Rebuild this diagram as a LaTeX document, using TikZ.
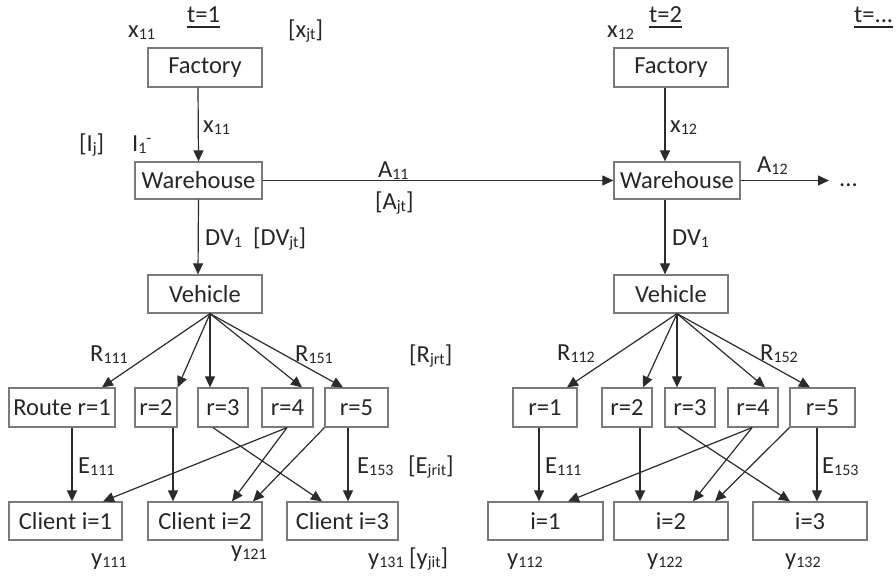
\documentclass[tikz,border=0pt]{standalone}
\usepackage{fontspec}
\setmainfont{Carlito}
\usetikzlibrary{arrows.meta}
\definecolor{boxgray}{HTML}{7A7A7A}
\definecolor{linegray}{HTML}{2B2B2B}
\definecolor{txt}{HTML}{262626}
% lowered / raised small indices
\newcommand{\sbs}[1]{\raisebox{-2.5pt}{\fontsize{16}{16}\selectfont #1}}
\newcommand{\sps}[1]{\raisebox{8pt}{\fontsize{16}{16}\selectfont #1}}
\begin{document}
\begin{tikzpicture}[x=1pt,y=-1pt,
  font=\fontsize{24.5}{29}\selectfont,
  box/.style={draw=boxgray, line width=1.3pt, minimum height=39pt, inner sep=0pt, text=txt},
  lbl/.style={anchor=base west, inner sep=0pt, text=txt},
  arr/.style={draw=linegray, line width=1.2pt, -{Triangle[length=11pt,width=10pt]}},
  uline/.style={draw=txt, line width=1.3pt}]
\fill[white] (0,0) rectangle (896,576);
\useasboundingbox (0,0) rectangle (896,576);

% ---------- period t = 1 ----------
\node[box, minimum width=114pt] (fac1) at (205,67.5) {Factory};
\node[box, minimum width=127pt, minimum height=37pt] (wh1) at (198.5,180.5) {Warehouse};
\node[box, minimum width=114pt, minimum height=38pt] (veh1) at (205,294) {Vehicle};
\node[box, minimum width=106pt] (r11) at (62,407.5) {Route r=1};
\node[box, minimum width=42pt] (r12) at (156,407.5) {r=2};
\node[box, minimum width=50pt] (r13) at (223,407.5) {r=3};
\node[box, minimum width=51pt] (r14) at (287.5,407.5) {r=4};
\node[box, minimum width=63pt] (r15) at (356.5,407.5) {r=5};
\node[box, minimum width=113pt, minimum height=38pt] (c11) at (65.5,521) {Client i=1};
\node[box, minimum width=114pt, minimum height=38pt] (c12) at (205,521) {Client i=2};
\node[box, minimum width=111pt, minimum height=38pt] (c13) at (342.5,521) {Client i=3};

% ---------- period t = 2 ----------
\node[box, minimum width=114pt] (fac2) at (671,67.5) {Factory};
\node[box, minimum width=126pt, minimum height=37pt] (wh2) at (677,180.5) {Warehouse};
\node[box, minimum width=114pt, minimum height=38pt] (veh2) at (671,294) {Vehicle};
\node[box, minimum width=64pt] (r21) at (545,407.5) {r=1};
\node[box, minimum width=50pt] (r22) at (627,407.5) {r=2};
\node[box, minimum width=50pt] (r23) at (690,407.5) {r=3};
\node[box, minimum width=50pt] (r24) at (753,407.5) {r=4};
\node[box, minimum width=65pt] (r25) at (822.5,407.5) {r=5};
\node[box, minimum width=115pt, minimum height=38pt] (c21) at (545.5,521) {i=1};
\node[box, minimum width=114pt, minimum height=38pt] (c22) at (671,521) {i=2};
\node[box, minimum width=114pt, minimum height=38pt] (c23) at (810,521) {i=3};
\node[lbl] (dots) at (839,186) {...};

% ---------- flows, t = 1 ----------
\draw[arr] (198,0 |- fac1.south) -- (wh1.north);
\draw[arr] (wh1.east) -- (wh2.west);
\draw[arr] (wh1.south) -- (198,0 |- veh1.north);
\coordinate (v1) at (210,0 |- veh1.south);
\draw[arr] (v1) -- (102,0 |- r11.north);
\draw[arr] (v1) -- (r12.north east);
\draw[arr] (v1) -- (210,0 |- r13.north);
\draw[arr] (v1) -- (302,0 |- r14.north);
\draw[arr] (v1) -- (343,0 |- r15.north);
\draw[arr] (72,0 |- r11.south) -- (72,0 |- c11.north);
\draw[arr] (173,0 |- r12.south) -- (173,0 |- c12.north);
\draw[arr] (213,0 |- r13.south) -- (322,0 |- c13.north);
\draw[arr] (287,0 |- r14.south) -- (103,0 |- c11.north);
\draw[arr] (287,0 |- r14.south) -- (232,0 |- c12.north);
\draw[arr] (r15.south west) -- (253,0 |- c12.north);
\draw[arr] (348,0 |- r15.south) -- (348,0 |- c13.north);

% ---------- flows, t = 2 ----------
\draw[arr] (665,0 |- fac2.south) -- (665,0 |- wh2.north);
\draw[arr] (wh2.east) -- ([xshift=-10pt]dots.west |- wh2.east);
\draw[arr] (665,0 |- wh2.south) -- (665,0 |- veh2.north);
\coordinate (v2) at (677,0 |- veh2.south);
\draw[arr] (v2) -- (567,0 |- r21.north);
\draw[arr] (v2) -- (643,0 |- r22.north);
\draw[arr] (v2) -- (677,0 |- r23.north);
\draw[arr] (v2) -- (765,0 |- r24.north);
\draw[arr] (v2) -- (810,0 |- r25.north);
\draw[arr] (539,0 |- r21.south) -- (539,0 |- c21.north);
\draw[arr] (640,0 |- r22.south) -- (640,0 |- c22.north);
\draw[arr] (678,0 |- r23.south) -- (790,0 |- c23.north);
\draw[arr] (752,0 |- r24.south) -- (568,0 |- c21.north);
\draw[arr] (752,0 |- r24.south) -- (693,0 |- c22.north);
\draw[arr] (r25.south west) -- (715,0 |- c22.north);
\draw[arr] (817,0 |- r25.south) -- (817,0 |- c23.north);

% ---------- period headings ----------
\node[lbl] (t1) at (187,22) {t=1};
\node[lbl] (t2) at (649,22) {t=2};
\node[lbl] (t3) at (854,22) {t=...};
\draw[uline] ([yshift=-5pt]t1.base west) -- ([yshift=-5pt]t1.base east);
\draw[uline] ([yshift=-5pt]t2.base west) -- ([yshift=-5pt]t2.base east);
\draw[uline] ([yshift=-5pt]t3.base west) -- ([yshift=-5pt]t3.base east);

% ---------- variable labels, t = 1 ----------
\node[lbl] (lx1) at (128,37) {x\sbs{11}};
\node[lbl] (lxj) at (288,37) {[x\sbs{jt}]};
\node[lbl] (lx1a) at (203,132) {x\sbs{11}};
\node[lbl] (lij) at (79,151) {[I\sbs{j}]};
\node[lbl] (li1) at (132,151) {I\sbs{1}\sps{-}};
\node[lbl] (la1) at (378,177) {A\sbs{11}};
\node[lbl] (laj) at (375,209) {[A\sbs{jt}]};
\node[lbl] (ld1) at (205,245) {DV\sbs{1}};
\node[lbl] (ldj) at (253,245) {[DV\sbs{jt}]};
\node[lbl] (lr1) at (90,361) {R\sbs{111}};
\node[lbl] (lr5) at (295,361) {R\sbs{151}};
\node[lbl] (lrj) at (409,362) {[R\sbs{jrt}]};
\node[lbl] (le1) at (78,473) {E\sbs{111}};
\node[lbl] (le5) at (357,473) {E\sbs{153}};
\node[lbl] (lej) at (408,473) {[E\sbs{jrit}]};
\node[lbl] (ly1) at (91,565) {y\sbs{111}};
\node[lbl] (ly2) at (231,557) {y\sbs{121}};
\node[lbl] (ly3) at (368,565) {y\sbs{131}};
\node[lbl] (lyj) at (409,565) {[y\sbs{jit}]};

% ---------- variable labels, t = 2 ----------
\node[lbl] (mx1) at (607,37) {x\sbs{12}};
\node[lbl] (mx1a) at (670,132) {x\sbs{12}};
\node[lbl] (ma1) at (757,172) {A\sbs{12}};
\node[lbl] (md1) at (672,245) {DV\sbs{1}};
\node[lbl] (mr1) at (557,360) {R\sbs{112}};
\node[lbl] (mr5) at (760,360) {R\sbs{152}};
\node[lbl] (me1) at (545,473) {E\sbs{111}};
\node[lbl] (me5) at (822,473) {E\sbs{153}};
\node[lbl] (my1) at (507,565) {y\sbs{112}};
\node[lbl] (my2) at (647,565) {y\sbs{122}};
\node[lbl] (my3) at (785,565) {y\sbs{132}};
\end{tikzpicture}
\end{document}
